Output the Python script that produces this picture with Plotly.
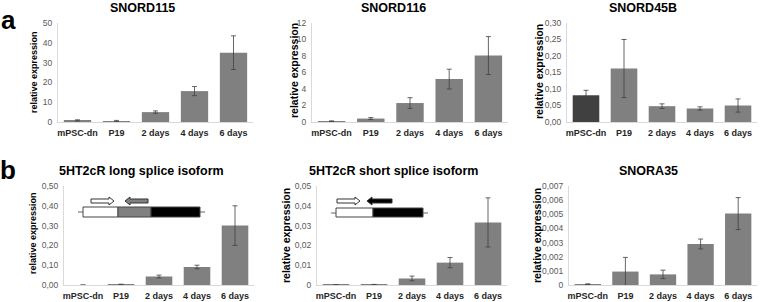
import plotly.graph_objects as go

W, H = 760, 302

categories = ["mPSC-dn", "P19", "2 days", "4 days", "6 days"]

titles = ["SNORD115", "SNORD116", "SNORD45B",
          "5HT2cR long splice isoform", "5HT2cR short splice isoform", "SNORA35"]

snord115 = [0.8, 0.5, 5.0, 15.6, 35.0]
snord115_err = [0.3, 0.3, 0.6, 2.3, 8.5]

snord116 = [0.1, 0.42, 2.3, 5.2, 8.05]
snord116_err = [0.04, 0.12, 0.65, 1.2, 2.3]

snord45b = [0.081, 0.162, 0.048, 0.041, 0.05]
snord45b_err = [0.015, 0.088, 0.007, 0.005, 0.02]

long_iso = [0.0, 0.003, 0.043, 0.091, 0.30]
long_iso_err = [0.0, 0.001, 0.007, 0.009, 0.10]

short_iso = [0.0001, 0.0002, 0.0033, 0.0113, 0.0316]
short_iso_err = [0.0, 0.0001, 0.0012, 0.0026, 0.0124]

snora35 = [0.00006, 0.00095, 0.00075, 0.0029, 0.00505]
snora35_err = [0.00002, 0.001, 0.0003, 0.00035, 0.00113]

ticks115 = [0, 10, 20, 30, 40, 50]
ticks115_text = ["0", "10", "20", "30", "40", "50"]
ticks116 = [0, 2, 4, 6, 8, 10, 12]
ticks116_text = ["0", "2", "4", "6", "8", "10", "12"]
ticks45b = [0, 0.05, 0.10, 0.15, 0.20, 0.25, 0.30]
ticks45b_text = ["0,00", "0,05", "0,10", "0,15", "0,20", "0,25", "0,30"]
ticks_long = [0, 0.1, 0.2, 0.3, 0.4, 0.5]
ticks_long_text = ["0,00", "0,10", "0,20", "0,30", "0,40", "0,50"]
ticks_short = [0, 0.01, 0.02, 0.03, 0.04, 0.05]
ticks_short_text = ["0", "0,01", "0,02", "0,03", "0,04", "0,05"]
ticks_a35 = [0, 0.001, 0.002, 0.003, 0.004, 0.005, 0.006, 0.007]
ticks_a35_text = ["0", "0,001", "0,002", "0,003", "0,004", "0,005", "0,006", "0,007"]

GRAY = "#808080"
DARK = "#404040"
FONT = "Liberation Sans, Arial, sans-serif"


def px(x):
    return x / W


def py(y):
    return 1 - y / H


# panel layout in pixels: (left, right, top, bottom)
panels = [
    (58, 253, 23, 122),
    (312, 508, 23, 122),
    (567, 757, 23, 122),
    (64, 254, 186, 285),
    (317, 507, 186, 285),
    (569, 757, 186, 285),
]

series = [
    (snord115, snord115_err, [GRAY] * 5, ticks115, ticks115_text),
    (snord116, snord116_err, [GRAY] * 5, ticks116, ticks116_text),
    (snord45b, snord45b_err, [DARK] + [GRAY] * 4, ticks45b, ticks45b_text),
    (long_iso, long_iso_err, [GRAY] * 5, ticks_long, ticks_long_text),
    (short_iso, short_iso_err, [GRAY] * 5, ticks_short, ticks_short_text),
    (snora35, snora35_err, [GRAY] * 5, ticks_a35, ticks_a35_text),
]

fig = go.Figure()
layout = dict(
    template="none",
    width=W, height=H, margin=dict(l=0, r=0, t=0, b=0, autoexpand=False),
    paper_bgcolor="white", plot_bgcolor="white", showlegend=False,
    font=dict(family=FONT, color="#333333"), bargap=0.3,
)

annotations = []
for i, ((l, r, t, b), (vals, errs, cols, tv, tt)) in enumerate(zip(panels, series)):
    n = "" if i == 0 else str(i + 1)
    fig.add_trace(go.Bar(
        x=categories, y=vals, marker=dict(color=cols, line=dict(width=0)),
        error_y=dict(type="data", array=errs, color="#404040", thickness=0.8, width=2.5),
        xaxis="x" + n, yaxis="y" + n,
    ))
    layout["xaxis" + n] = dict(
        domain=[px(l), px(r)], anchor="y" + n, type="category", automargin=False,
        showline=True, linecolor="#d9d9d9", linewidth=1, showgrid=False, zeroline=False,
        ticks="", tickfont=dict(size=9, family=FONT, color="#262626", weight="bold"),
        ticklabelstandoff=2,
    )
    layout["yaxis" + n] = dict(
        domain=[py(b), py(t)], anchor="x" + n, range=[0, tv[-1]], automargin=False,
        showline=True, linecolor="#d9d9d9", linewidth=1, showgrid=False, zeroline=False,
        tickvals=tv, ticktext=tt, ticks="",
        tickfont=dict(size=8.5, family=FONT, color="#595959"),
        ticklabelstandoff=3,
    )

# titles
title_pos = [(142, 8), (394, 8), (643, 8), (141, 171), (394, 171), (648, 171)]
for (x, y), txt in zip(title_pos, titles):
    annotations.append(dict(
        x=px(x), y=py(y), xref="paper", yref="paper", text="<b>%s</b>" % txt,
        showarrow=False, xanchor="center", yanchor="middle",
        font=dict(size=12.5, family=FONT, color="#000000"),
    ))

# y axis titles
ytitle_pos = [(34, 72, 9), (294, 71, 10.5), (539, 72, 10.5),
              (33, 233, 9), (286, 236, 10.5), (537, 236, 10.5)]
for x, y, s in ytitle_pos:
    annotations.append(dict(
        x=px(x), y=py(y), xref="paper", yref="paper", text="<b>relative expression</b>",
        showarrow=False, textangle=-90, xanchor="center", yanchor="middle",
        font=dict(size=s, family=FONT, color="#000000"),
    ))

# panel letters
for x, y, txt in [(8, 20, "a"), (8, 170, "b")]:
    annotations.append(dict(
        x=px(x), y=py(y), xref="paper", yref="paper", text="<b>%s</b>" % txt,
        showarrow=False, xanchor="center", yanchor="middle",
        font=dict(size=26, family=FONT, color="#000000"),
    ))

layout["annotations"] = annotations

# gene structure insets
shapes = []


def rect(x0, x1, y0, y1, fill, lc="#444444"):
    shapes.append(dict(type="rect", xref="paper", yref="paper",
                       x0=px(x0), x1=px(x1), y0=py(y1), y1=py(y0),
                       fillcolor=fill, line=dict(color=lc, width=1)))


def hline(x0, x1, y):
    shapes.append(dict(type="line", xref="paper", yref="paper",
                       x0=px(x0), x1=px(x1), y0=py(y), y1=py(y),
                       line=dict(color="#666666", width=1)))


def arrow(x0, x1, yc, fill, direction):
    hl = 5
    if direction == "right":
        pts = [(x0, yc - 2), (x1 - hl, yc - 2), (x1 - hl, yc - 4), (x1, yc),
               (x1 - hl, yc + 4), (x1 - hl, yc + 2), (x0, yc + 2)]
    else:
        pts = [(x1, yc - 2), (x0 + hl, yc - 2), (x0 + hl, yc - 4), (x0, yc),
               (x0 + hl, yc + 4), (x0 + hl, yc + 2), (x1, yc + 2)]
    path = "M " + " L ".join("%.5f,%.5f" % (px(a), py(c)) for a, c in pts) + " Z"
    shapes.append(dict(type="path", xref="paper", yref="paper", path=path,
                       fillcolor=fill, line=dict(color="#333333", width=1)))


# long isoform
hline(78, 205, 212)
rect(83, 118, 207, 217, "white")
rect(118, 151, 207, 217, GRAY)
rect(151, 200, 207, 217, "black")
arrow(91, 114, 201, "white", "right")
arrow(125, 148, 201, GRAY, "left")

# short isoform
hline(331, 428, 213)
rect(336, 373, 208, 217, "white")
rect(373, 423, 208, 217, "black")
arrow(337, 360, 201, "white", "right")
arrow(367, 392, 201, "black", "left")

layout["shapes"] = shapes
fig.update_layout(**layout)
fig.write_html(
    "out.html",
    config={"displayModeBar": False},
    post_script="document.body.style.margin='0';document.body.style.padding='0';"
                "document.body.style.overflow='hidden';",
)
